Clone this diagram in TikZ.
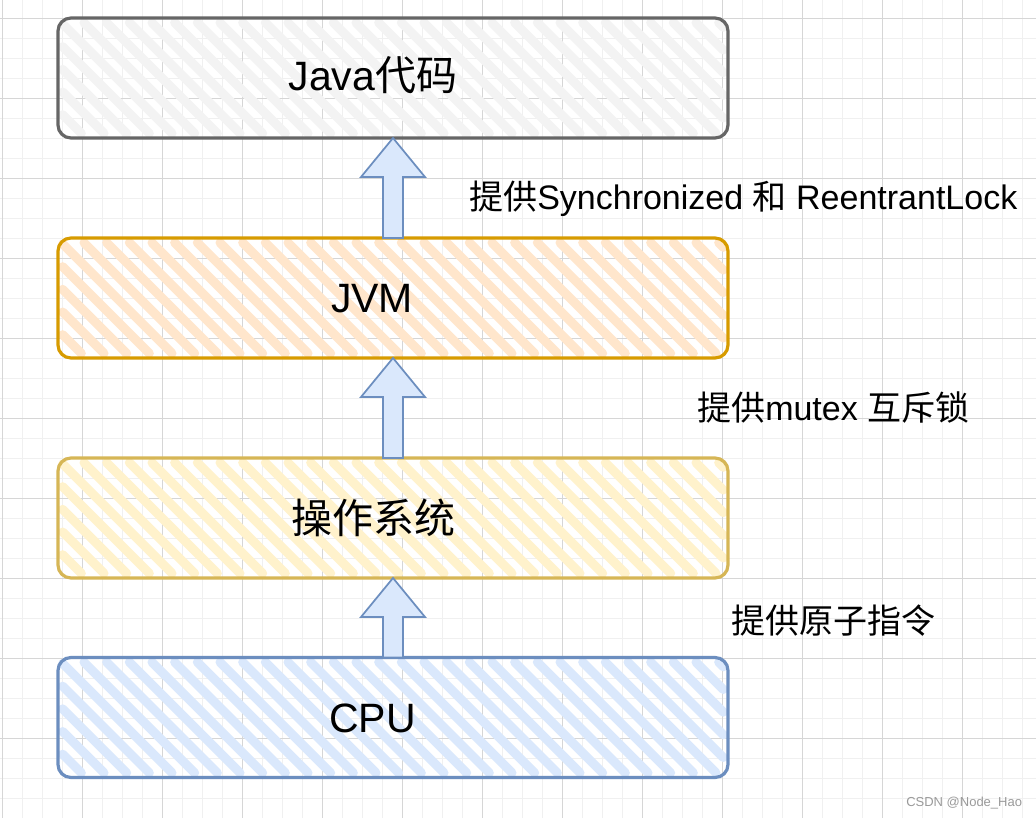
\documentclass[tikz,border=0pt]{standalone}
\usepackage{fontspec}
\setmainfont{Liberation Sans}
\newfontfamily\cjk{Noto Sans CJK SC}
\usetikzlibrary{calc}
\pgfdeclarelayer{gridlayer}
\pgfdeclarelayer{hatchlayer}
\pgfsetlayers{gridlayer,hatchlayer,main}
\definecolor{javaline}{HTML}{666666}
\definecolor{javafill}{HTML}{F3F3F3}
\definecolor{jvmline}{HTML}{D79B00}
\definecolor{jvmfill}{HTML}{FFE6CC}
\definecolor{osline}{HTML}{D6B656}
\definecolor{osfill}{HTML}{FFF2CC}
\definecolor{cpuline}{HTML}{6C8EBF}
\definecolor{cpufill}{HTML}{DAE8FC}
\definecolor{gridminor}{HTML}{F0F0F0}
\definecolor{gridmajor}{HTML}{D6D6D6}
\definecolor{marktext}{HTML}{9A9A9A}

\tikzset{
  layerbox/.style={rectangle, rounded corners=9.75pt, line width=2.4pt,
    minimum width=502.5pt, minimum height=90pt, inner sep=0pt, outer sep=0pt},
  boxlabel/.style={anchor=base, inner sep=0pt, font=\fontsize{30.75}{36}\selectfont},
  sidelabel/.style={anchor=base west, inner sep=0pt, font=\fontsize{25.5}{30}\selectfont},
  hatchline/.style={line width=6.75pt, line cap=round},
  blockarr/.style={draw=cpuline, fill=cpufill, line width=1.3pt, line join=miter},
  gridminorline/.style={draw=gridminor, line width=1.1pt},
  gridmajorline/.style={draw=gridmajor, line width=0.75pt}
}

\newcommand\hatchfill[2]{%
  \begin{pgfonlayer}{hatchlayer}
  \path (#1.north west); \pgfgetlastxy{\hxa}{\hya}
  \path (#1.south east); \pgfgetlastxy{\hxb}{\hyb}
  \pgfmathsetmacro\nxa{\hxa}\pgfmathsetmacro\nya{\hya}
  \pgfmathsetmacro\nxb{\hxb}\pgfmathsetmacro\nyb{\hyb}
  \pgfmathsetmacro\hh{\nya-\nyb}
  \foreach \i in {0,...,45}{
    \pgfmathsetmacro\hs{\nxa-\hh+4+\i*17}
    \pgfmathsetmacro\hta{max(3.5,\nxa+3.5-\hs)}
    \pgfmathsetmacro\htb{min(\hh-3.5,\nxb-3.5-\hs)}
    \ifdim\hta pt<\htb pt
      \pgfmathsetmacro\pxa{\hs+\hta}\pgfmathsetmacro\pya{\nya-\hta}
      \pgfmathsetmacro\pxb{\hs+\htb}\pgfmathsetmacro\pyb{\nya-\htb}
      \draw[hatchline,draw=#2] (\pxa pt,\pya pt) -- (\pxb pt,\pyb pt);
    \fi
  }
  \end{pgfonlayer}
}

\newcommand\liftarrow[2]{%
  \path (#1.north); \pgfgetlastxy{\axa}{\aya}
  \path (#2.south); \pgfgetlastxy{\axb}{\ayb}
  \draw[blockarr] (\axb,\ayb) -- ++(24pt,-29.25pt) -- ++(-16.5pt,0pt)
    -- (\axb+7.5pt,\aya) -- (\axb-7.5pt,\aya) -- (\axb-7.5pt,\ayb-29.25pt)
    -- ++(-16.5pt,0pt) -- cycle;
}

\begin{document}
\begin{tikzpicture}[x=0.75pt,y=-0.75pt]
\useasboundingbox (0,0) rectangle (1036,818);
\begin{pgfonlayer}{gridlayer}
  \fill[white] (0,0) rectangle (1036,818);
  \foreach \gx in {2.7,22.7,...,1036} \draw[gridminorline] (\gx,0) -- (\gx,818);
  \foreach \gy in {18.3,38.3,...,818} \draw[gridminorline] (0,\gy) -- (1036,\gy);
  \foreach \gx in {2.7,82.7,...,1036} \draw[gridmajorline] (\gx,0) -- (\gx,818);
  \foreach \gy in {18.3,98.3,...,818} \draw[gridmajorline] (0,\gy) -- (1036,\gy);
\end{pgfonlayer}

\node[layerbox, draw=javaline] (java) at (393,78) {};
\node[layerbox, draw=jvmline] (jvm) at (393,298) {};
\node[layerbox, draw=osline] (os) at (393,518) {};
\node[layerbox, draw=cpuline] (cpu) at (393,717.5) {};

\hatchfill{java}{javafill}
\hatchfill{jvm}{jvmfill}
\hatchfill{os}{osfill}
\hatchfill{cpu}{cpufill}

\node[boxlabel] (javatext) at (373,90) {Java{\cjk 代码}};
\node[boxlabel] (jvmtext) at (372,312) {JVM};
\node[boxlabel] (ostext) at (373.5,533) {\cjk 操作系统};
\node[boxlabel] (cputext) at (372.5,732) {CPU};

\liftarrow{jvm}{java}
\liftarrow{os}{jvm}
\liftarrow{cpu}{os}

\node[sidelabel] (lab1) at (469,209) {{\cjk 提供}Synchronized {\cjk 和} ReentrantLock};
\node[sidelabel] (lab2) at (697,420) {{\cjk 提供}mutex {\cjk 互斥锁}};
\node[sidelabel] (lab3) at (731,633.5) {\cjk 提供原子指令};

\node[anchor=base west, inner sep=0pt, text=marktext, font=\fontsize{9.75}{12}\selectfont] (mark) at (906,806) {CSDN @Node\_Hao};
\end{tikzpicture}
\end{document}
